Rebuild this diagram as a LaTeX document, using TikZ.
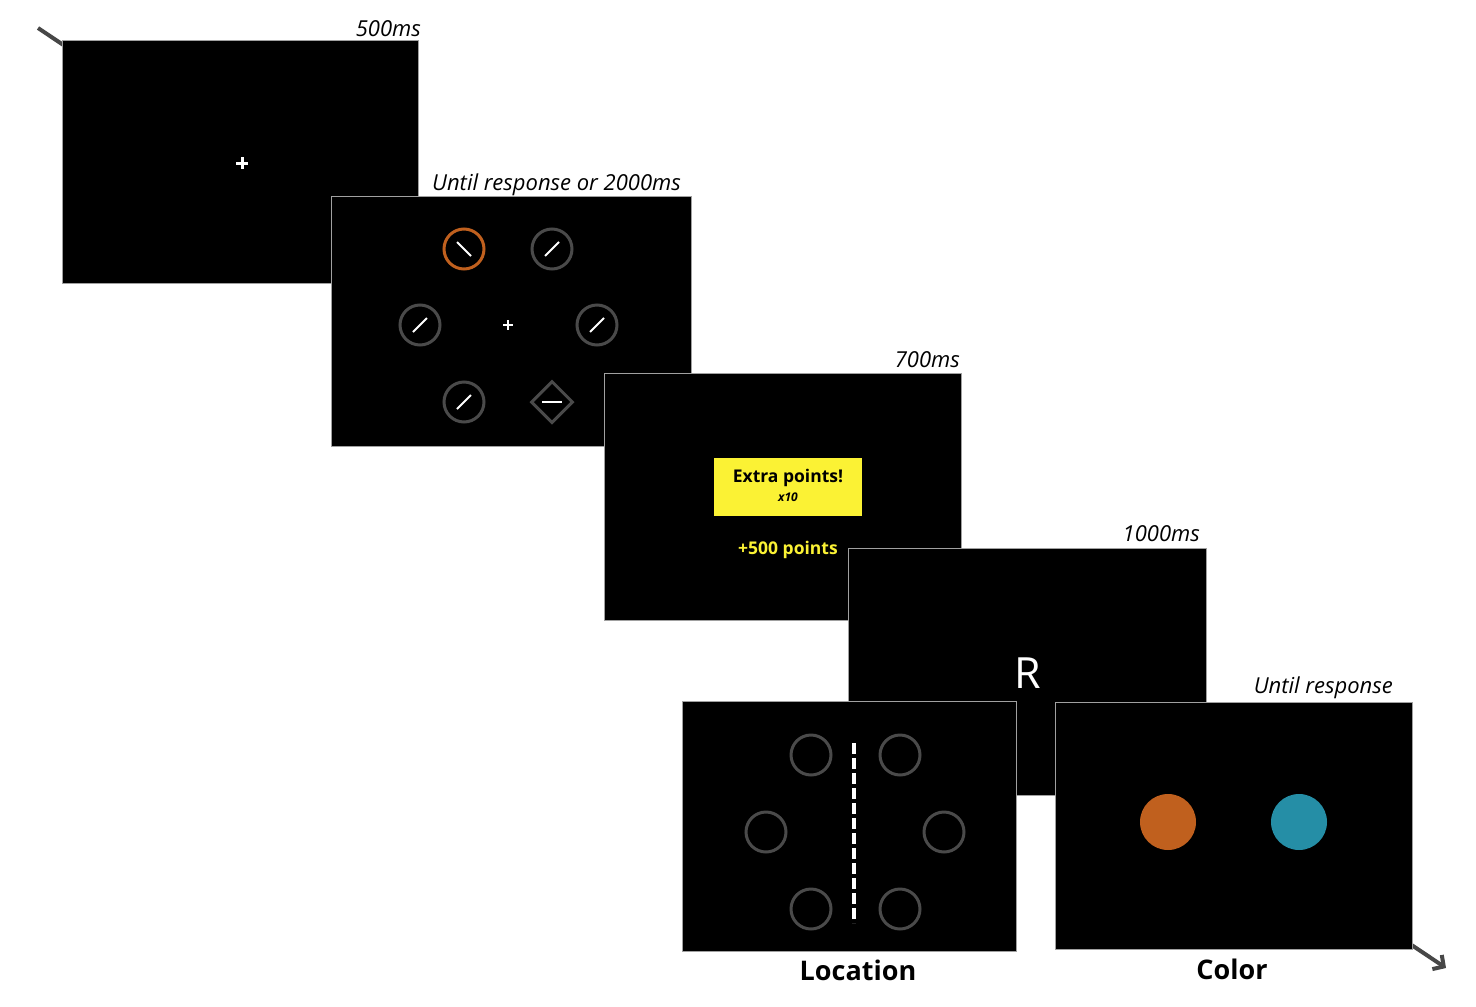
\documentclass[tikz,border=0pt]{standalone}
\usepackage{fontspec}
\setmainfont{Open Sans}
\usetikzlibrary{arrows.meta,shapes.geometric}
\definecolor{borderg}{HTML}{A0A0A0}
\definecolor{ringg}{HTML}{4A4A4A}
\definecolor{arrowg}{HTML}{474747}
\definecolor{orng}{HTML}{C0601E}
\definecolor{teal}{HTML}{258EA6}
\definecolor{yel}{HTML}{FBF234}
\tikzset{
  screen/.style={draw=borderg, fill=black, line width=1.2pt, inner sep=0pt, anchor=north west, rectangle},
  ring/.style={circle, draw=ringg, line width=3pt, minimum size=40pt, inner sep=0pt},
  diam/.style={diamond, draw=ringg, line width=3pt, minimum width=42pt, minimum height=42pt, inner sep=0pt},
  tick/.style={draw=white, line width=1.8pt},
  dur/.style={anchor=base east, inner sep=0pt, font=\fontsize{22}{26}\selectfont\itshape},
  cond/.style={anchor=base, inner sep=0pt, font=\fontsize{27}{32}\selectfont\bfseries},
  fix/.style={draw=white, line width=3pt},
  dot/.style={circle, minimum size=56pt, inner sep=0pt},
}
\begin{document}
\begin{tikzpicture}[x=1pt,y=-1pt]
\useasboundingbox (0,0) rectangle (1476,1007);
% time arrow
\coordinate (astart) at (38,28);
\coordinate (aend) at (1446,968);
\draw[arrowg, line width=4pt, -{Straight Barb[length=8pt,width=17pt]}] (astart) -- (aend);
% screen 1
\node[screen, minimum width=356pt, minimum height=243pt] (s1) at (62,40) {};
\node[dur] (l1) at (421,36) {500ms};
\coordinate (f1) at (242,163);
\draw[fix] ([shift={(-6,0)}]f1) -- ([shift={(6,0)}]f1);
\draw[fix] ([shift={(0,-6)}]f1) -- ([shift={(0,6)}]f1);
% screen 2
\node[screen, minimum width=360pt, minimum height=250pt] (s2) at (331,196) {};
\node[dur] (l2) at (681,190) {Until response or 2000ms};
\node[ring, draw=orng] (c1) at (464,249) {};
\node[ring] (c2) at (552,249) {};
\node[ring] (c3) at (420,325) {};
\node[ring] (c4) at (597,325) {};
\node[ring] (c5) at (464,402) {};
\node[diam] (d1) at (552,402) {};
\draw[tick] ([shift={(-7,-7)}]c1.center) -- ([shift={(7,7)}]c1.center);
\foreach \c in {c2,c3,c4,c5}
  \draw[tick] ([shift={(-7,7)}]\c.center) -- ([shift={(7,-7)}]\c.center);
\draw[tick] ([shift={(-10,0)}]d1.center) -- ([shift={(10,0)}]d1.center);
\coordinate (f2) at (508,325);
\draw[draw=white, line width=1.8pt] ([shift={(-5,0)}]f2) -- ([shift={(5,0)}]f2);
\draw[draw=white, line width=1.8pt] ([shift={(0,-5)}]f2) -- ([shift={(0,5)}]f2);
% screen 3
\node[screen, minimum width=357pt, minimum height=247pt] (s3) at (604,373) {};
\node[dur] (l3) at (960,367) {700ms};
\node[fill=yel, minimum width=148pt, minimum height=58pt, inner sep=0pt] (ybox) at (788,487) {};
\node[anchor=base, inner sep=0pt, font=\fontsize{17.5}{20}\selectfont\bfseries] (ep) at (788,482) {Extra points!};
\node[anchor=base, inner sep=0pt, font=\fontsize{12}{14}\selectfont\bfseries\itshape] (x10) at (788,501) {x10};
\node[anchor=base, inner sep=0pt, text=yel, font=\fontsize{17.5}{20}\selectfont\bfseries] (pts) at (788,554) {+500 points};
% screen 4
\node[screen, minimum width=358pt, minimum height=247pt] (s4) at (848,548) {};
\node[dur] (l4) at (1200,541) {1000ms};
\node[anchor=base, inner sep=0pt, text=white, font=\fontsize{43}{50}\selectfont] (R) at (1028,688) {R};
% screen 5 location
\node[screen, minimum width=334pt, minimum height=250pt] (s5) at (682,701) {};
\node[ring] (p1) at (811,755) {};
\node[ring] (p2) at (900,755) {};
\node[ring] (p3) at (766,832) {};
\node[ring] (p4) at (944,832) {};
\node[ring] (p5) at (811,909) {};
\node[ring] (p6) at (900,909) {};
\coordinate (dtop) at (854,743);
\coordinate (dbot) at (854,923);
\draw[white, line width=4pt, dash pattern=on 11pt off 4pt] (dtop) -- (dbot);
\node[cond] (loc) at (858,980) {Location};
% screen 6 color
\node[screen, minimum width=357pt, minimum height=247pt] (s6) at (1055,702) {};
\node[dur] (l6) at (1393,693) {Until response};
\node[dot, fill=orng] (od) at (1168,822) {};
\node[dot, fill=teal] (td) at (1299,822) {};
\node[cond] (col) at (1232,979) {Color};
\end{tikzpicture}
\end{document}
